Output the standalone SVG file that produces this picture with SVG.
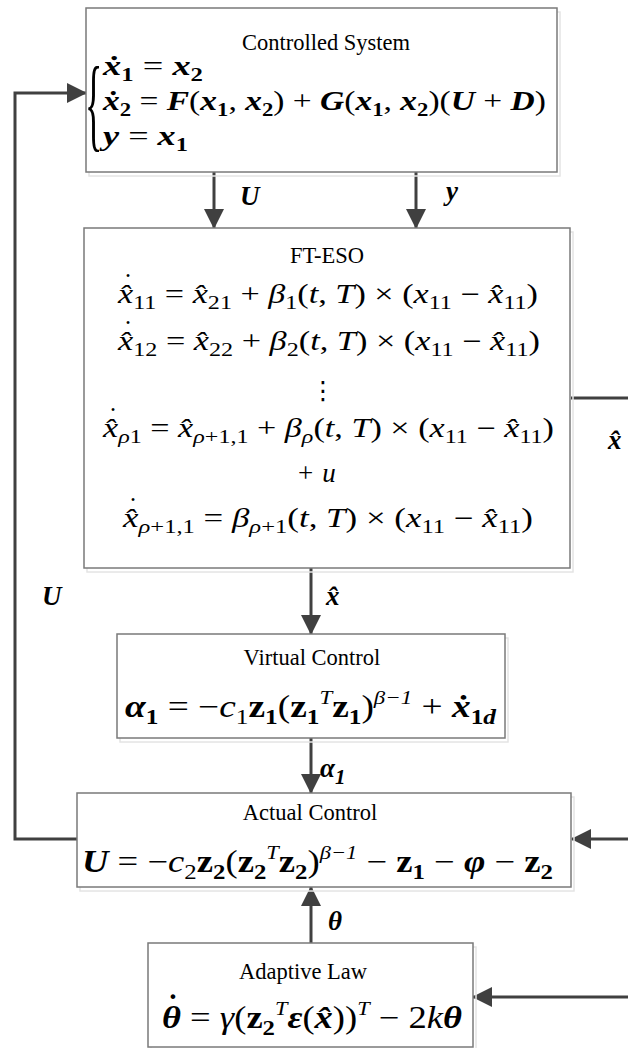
<svg xmlns="http://www.w3.org/2000/svg" width="628" height="1048" viewBox="0 0 628 1048">
<defs>
<marker id="ah" markerWidth="20" markerHeight="20" refX="19" refY="10" orient="auto" markerUnits="userSpaceOnUse">
<path d="M0,0 L20,10 L0,20 z" fill="#404040"/>
</marker>
<style>
.box{fill:#fff;stroke:#7a7a7a;stroke-width:1.5}
.shadow{fill:none;stroke:#e4e4e4;stroke-width:1.5}
.conn{fill:none;stroke:#404040;stroke-width:3}
.title{font-family:"Liberation Serif",serif;font-size:22.5px;fill:#000;text-anchor:middle}
.eq{font-family:"Liberation Serif",serif;font-size:31px;fill:#000}
.eqt{font-family:"Liberation Serif",serif;font-size:28px;fill:#000}
.eqs{font-family:"Liberation Serif",serif;font-size:27px;fill:#000}
.lab{font-family:"Liberation Serif",serif;font-size:27px;font-style:italic;font-weight:bold;fill:#000}
.dot{font-family:"Liberation Serif",serif;font-size:27px;fill:#000;text-anchor:middle}
.i{font-style:italic}
.bi{font-style:italic;font-weight:bold}
.bu{font-weight:bold}
.sub{font-size:19px}
.bsub{font-size:19px;font-weight:bold}
.sub2{font-size:21px}
.bsub2{font-size:21px;font-weight:bold}
.sup{font-size:19px;font-style:italic}
</style>
</defs>

<g id="connectors">
<path class="conn" d="M77,839 H15 V93 H86" marker-end="url(#ah)"/>
<path class="conn" d="M214,172 V228" marker-end="url(#ah)"/>
<path class="conn" d="M416,172 V228" marker-end="url(#ah)"/>
<path class="conn" d="M571,398 H628"/>
<path class="conn" d="M311,568 V634" marker-end="url(#ah)"/>
<path class="conn" d="M311,738 V793" marker-end="url(#ah)"/>
<path class="conn" d="M628,839 H572" marker-end="url(#ah)"/>
<path class="conn" d="M311,943 V887" marker-end="url(#ah)"/>
<path class="conn" d="M628,997 H473" marker-end="url(#ah)"/>
<text class="lab" x="240" y="205">U</text>
<text class="lab" x="446" y="200">y</text>
<text class="lab" x="42" y="605">U</text>
<text class="lab" x="608" y="449">x̂</text>
<text class="lab" x="326" y="605">x̂</text>
<text class="lab" x="320" y="777">α<tspan class="sub2" dy="7">1</tspan></text>
<text class="lab" x="328" y="930">θ</text>
</g>

<g id="controlled-system">
<rect class="shadow" x="89" y="12" width="471" height="164"/>
<rect class="box" x="86" y="8" width="471" height="164"/>
<text class="title" x="326" y="50">Controlled System</text>
<text class="eqt" style="font-size:36px" transform="translate(85,138) scale(1,2.9)" x="0" y="0">{</text>
<text class="eqt" x="103" y="75" textLength="100" lengthAdjust="spacingAndGlyphs"><tspan class="bi">ẋ</tspan><tspan class="bsub" dy="6">1</tspan><tspan dy="-6"> = </tspan><tspan class="bi">x</tspan><tspan class="bsub" dy="6">2</tspan></text>
<text class="eqt" x="103" y="110" textLength="443" lengthAdjust="spacingAndGlyphs"><tspan class="bi">ẋ</tspan><tspan class="bsub" dy="6">2</tspan><tspan dy="-6"> = </tspan><tspan class="bi">F</tspan>(<tspan class="bi">x</tspan><tspan class="bsub" dy="6">1</tspan><tspan dy="-6">, </tspan><tspan class="bi">x</tspan><tspan class="bsub" dy="6">2</tspan><tspan dy="-6">) + </tspan><tspan class="bi">G</tspan>(<tspan class="bi">x</tspan><tspan class="bsub" dy="6">1</tspan><tspan dy="-6">, </tspan><tspan class="bi">x</tspan><tspan class="bsub" dy="6">2</tspan><tspan dy="-6">)(</tspan><tspan class="bi">U</tspan> + <tspan class="bi">D</tspan>)</text>
<text class="eqt" x="103" y="145" textLength="85" lengthAdjust="spacingAndGlyphs"><tspan class="bi">y</tspan> = <tspan class="bi">x</tspan><tspan class="bsub" dy="6">1</tspan></text>
</g>

<g id="ft-eso">
<rect class="shadow" x="87" y="232" width="486" height="340"/>
<rect class="box" x="84" y="228" width="486" height="340"/>
<text class="title" x="327" y="263">FT-ESO</text>
<text class="eqs" x="118" y="303" textLength="420" lengthAdjust="spacingAndGlyphs"><tspan class="i">x̂</tspan><tspan class="sub" dy="6">11</tspan><tspan dy="-6"> = </tspan><tspan class="i">x̂</tspan><tspan class="sub" dy="6">21</tspan><tspan dy="-6"> + </tspan><tspan class="i">β</tspan><tspan class="sub" dy="6">1</tspan><tspan dy="-6">(</tspan><tspan class="i">t</tspan>, <tspan class="i">T</tspan>) × (<tspan class="i">x</tspan><tspan class="sub" dy="6">11</tspan><tspan dy="-6"> − </tspan><tspan class="i">x̂</tspan><tspan class="sub" dy="6">11</tspan><tspan dy="-6">)</tspan></text>
<text class="dot" x="128" y="292">˙</text>
<text class="eqs" x="118" y="350" textLength="422" lengthAdjust="spacingAndGlyphs"><tspan class="i">x̂</tspan><tspan class="sub" dy="6">12</tspan><tspan dy="-6"> = </tspan><tspan class="i">x̂</tspan><tspan class="sub" dy="6">22</tspan><tspan dy="-6"> + </tspan><tspan class="i">β</tspan><tspan class="sub" dy="6">2</tspan><tspan dy="-6">(</tspan><tspan class="i">t</tspan>, <tspan class="i">T</tspan>) × (<tspan class="i">x</tspan><tspan class="sub" dy="6">11</tspan><tspan dy="-6"> − </tspan><tspan class="i">x̂</tspan><tspan class="sub" dy="6">11</tspan><tspan dy="-6">)</tspan></text>
<text class="dot" x="128" y="339">˙</text>
<text x="323" y="399" style="font-family:'DejaVu Sans',sans-serif;font-size:25px;text-anchor:middle">⋮</text>
<text class="eqs" x="103" y="437" textLength="451" lengthAdjust="spacingAndGlyphs"><tspan class="i">x̂</tspan><tspan class="sub" dy="6"><tspan class="i">ρ</tspan>1</tspan><tspan dy="-6"> = </tspan><tspan class="i">x̂</tspan><tspan class="sub" dy="6"><tspan class="i">ρ</tspan>+1,1</tspan><tspan dy="-6"> + </tspan><tspan class="i">β</tspan><tspan class="sub i" dy="6">ρ</tspan><tspan dy="-6">(</tspan><tspan class="i">t</tspan>, <tspan class="i">T</tspan>) × (<tspan class="i">x</tspan><tspan class="sub" dy="6">11</tspan><tspan dy="-6"> − </tspan><tspan class="i">x̂</tspan><tspan class="sub" dy="6">11</tspan><tspan dy="-6">)</tspan></text>
<text class="dot" x="113" y="426">˙</text>
<text class="eqs" x="298" y="482">+<tspan class="i" dx="9">u</tspan></text>
<text class="eqs" x="123" y="527" textLength="410" lengthAdjust="spacingAndGlyphs"><tspan class="i">x̂</tspan><tspan class="sub" dy="6"><tspan class="i">ρ</tspan>+1,1</tspan><tspan dy="-6"> = </tspan><tspan class="i">β</tspan><tspan class="sub" dy="6"><tspan class="i">ρ</tspan>+1</tspan><tspan dy="-6">(</tspan><tspan class="i">t</tspan>, <tspan class="i">T</tspan>) × (<tspan class="i">x</tspan><tspan class="sub" dy="6">11</tspan><tspan dy="-6"> − </tspan><tspan class="i">x̂</tspan><tspan class="sub" dy="6">11</tspan><tspan dy="-6">)</tspan></text>
<text class="dot" x="133" y="516">˙</text>
</g>

<g id="virtual-control">
<rect class="shadow" x="120" y="638" width="388" height="104"/>
<rect class="box" x="117" y="634" width="388" height="104"/>
<text class="title" x="312" y="665">Virtual Control</text>
<text class="eq" x="125" y="717" textLength="371" lengthAdjust="spacingAndGlyphs"><tspan class="bi">α</tspan><tspan class="bsub2" dy="7">1</tspan><tspan dy="-7"> = −</tspan><tspan class="i">c</tspan><tspan class="sub2" dy="7">1</tspan><tspan class="bu" dy="-7">z</tspan><tspan class="bsub2" dy="7">1</tspan><tspan dy="-7">(</tspan><tspan class="bu">z</tspan><tspan class="bsub2" dy="7">1</tspan><tspan class="sup" dy="-20">T</tspan><tspan class="bu" dy="13">z</tspan><tspan class="bsub2" dy="7">1</tspan><tspan dy="-7">)</tspan><tspan class="sup" dy="-13">β−1</tspan><tspan dy="13"> + </tspan><tspan class="bi">ẋ</tspan><tspan class="bsub2" dy="7">1<tspan class="bi">d</tspan></tspan></text>
</g>

<g id="actual-control">
<rect class="shadow" x="80" y="797" width="494" height="94"/>
<rect class="box" x="77" y="793" width="494" height="94"/>
<text class="title" x="310" y="820">Actual Control</text>
<text class="eq" x="82" y="872" textLength="471" lengthAdjust="spacingAndGlyphs"><tspan class="bi">U</tspan> = −<tspan class="i">c</tspan><tspan class="sub2" dy="7">2</tspan><tspan class="bu" dy="-7">z</tspan><tspan class="bsub2" dy="7">2</tspan><tspan dy="-7">(</tspan><tspan class="bu">z</tspan><tspan class="bsub2" dy="7">2</tspan><tspan class="sup" dy="-20">T</tspan><tspan class="bu" dy="13">z</tspan><tspan class="bsub2" dy="7">2</tspan><tspan dy="-7">)</tspan><tspan class="sup" dy="-13">β−1</tspan><tspan dy="13"> − </tspan><tspan class="bu">z</tspan><tspan class="bsub2" dy="7">1</tspan><tspan dy="-7"> − </tspan><tspan class="bi">φ</tspan> − <tspan class="bu">z</tspan><tspan class="bsub2" dy="7">2</tspan></text>
</g>

<g id="adaptive-law">
<rect class="shadow" x="151" y="947" width="325" height="104"/>
<rect class="box" x="148" y="943" width="325" height="104"/>
<text class="title" x="303" y="979">Adaptive Law</text>
<text class="eq" x="162" y="1028" textLength="300" lengthAdjust="spacingAndGlyphs"><tspan class="bi">θ</tspan> = <tspan class="i">γ</tspan>(<tspan class="bu">z</tspan><tspan class="bsub2" dy="7">2</tspan><tspan class="sup" dy="-20">T</tspan><tspan class="bi" dy="13">ε</tspan>(<tspan class="bi">x̂</tspan>))<tspan class="sup" dy="-13">T</tspan><tspan dy="13"> − 2</tspan><tspan class="i">k</tspan><tspan class="bi">θ</tspan></text>
<text class="dot" x="173" y="1016" style="font-weight:bold;font-size:31px">˙</text>
</g>
</svg>
